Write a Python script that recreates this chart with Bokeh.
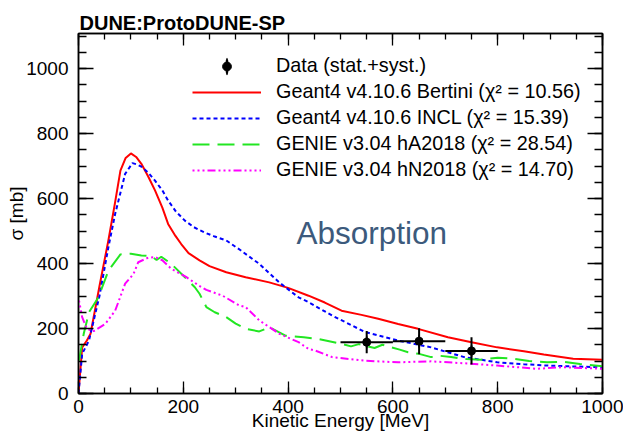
from bokeh.plotting import figure
from bokeh.models import (Range1d, LinearAxis, SingleIntervalTicker, Legend,
                          LegendItem, Label)
from bokeh.embed import file_html
from bokeh.resources import INLINE

# ---------------- data ----------------
bert_x = [0, 7, 16, 23, 40, 57, 70, 80, 90, 100, 110, 120, 133, 146, 160, 171, 185,
          196, 210, 231, 250, 282, 319, 364, 400, 439, 470, 502, 540, 572, 610, 648,
          705, 750, 799, 850, 888, 944, 1000]
bert_y = [0, 142, 163, 184, 330, 471, 590, 686, 725, 739, 728, 707, 668, 625, 572, 522,
          485, 460, 432, 410, 392, 373, 358, 342, 325, 301, 280, 255, 242, 230, 214, 199,
          173, 158, 142, 130, 120, 107, 104]

incl_x = [0, 7, 20, 40, 57, 70, 89, 103, 112, 120, 133, 146, 160, 171, 186, 203, 220,
          240, 260, 282, 310, 345, 383, 420, 439, 484, 547, 610, 673, 736, 799, 850,
          894, 950, 1000]
incl_y = [0, 122, 163, 300, 450, 553, 676, 709, 705, 698, 680, 655, 625, 594, 560, 532,
          512, 496, 483, 471, 440, 399, 342, 296, 281, 240, 189, 163, 142, 112, 96, 90,
          86, 83, 81]

ha_x = [1, 10, 20, 38, 57, 80, 100, 120, 139, 149, 158, 177, 203, 222, 231, 244, 260,
        282, 300, 319, 345, 364, 395, 430, 458, 502, 520, 535, 550, 565, 580, 597, 613,
        629, 650, 673, 690, 711, 740, 768, 800, 831, 860, 894, 925, 957, 1000]
ha_y = [101, 184, 250, 296, 378, 428, 430, 425, 423, 411, 421, 399, 358, 327, 307, 266,
        250, 235, 215, 199, 191, 204, 178, 173, 168, 153, 145, 152, 146, 140, 150, 142,
        135, 127, 122, 112, 116, 112, 106, 104, 110, 107, 100, 96, 98, 91, 84]

hn_x = [1, 7, 16, 29, 51, 70, 89, 105, 114, 133, 146, 160, 177, 206, 230, 244, 275,
        307, 319, 345, 383, 420, 439, 452, 484, 547, 610, 673, 736, 799, 875, 925, 1000]
hn_y = [286, 235, 199, 192, 214, 255, 338, 368, 404, 418, 420, 410, 384, 358, 332, 319,
        301, 271, 266, 225, 184, 158, 137, 132, 112, 101, 96, 99, 93, 86, 76, 81, 76]

data_x = [550, 650, 750]
data_y = [158, 161, 131]
data_xerr = [50, 50, 50]
data_yerr = [34, 40, 42]

labels = ["Data (stat.+syst.)",
          "Geant4 v4.10.6 Bertini (\u03c7\u00b2 = 10.56)",
          "Geant4 v4.10.6 INCL (\u03c7\u00b2 = 15.39)",
          "GENIE v3.04 hA2018 (\u03c7\u00b2 = 28.54)",
          "GENIE v3.04 hN2018 (\u03c7\u00b2 = 14.70)"]

FONT = "Liberation Sans"

p = figure(width=623, height=434, output_backend="svg", toolbar_location=None,
           x_range=Range1d(0, 1000), y_range=Range1d(0, 1108),
           x_axis_location=None, y_axis_location=None,
           min_border_left=78, min_border_right=21, min_border_top=33,
           min_border_bottom=41)
p.background_fill_color = "white"
p.border_fill_color = "white"
p.outline_line_color = "black"
p.outline_line_width = 1.5
for g in p.grid:
    g.visible = False

p.title.text = "DUNE:ProtoDUNE-SP"
p.title.text_font = FONT
p.title.text_font_size = "20px"
p.title.text_font_style = "bold"
p.title.text_color = "black"
p.title.align = "left"
p.title.standoff = 0
p.title.offset = 1


def make_axis(tick_in, minor_in, labels_on):
    ax = LinearAxis(ticker=SingleIntervalTicker(interval=200, num_minor_ticks=4))
    ax.major_tick_in = tick_in
    ax.major_tick_out = 0
    ax.minor_tick_in = minor_in
    ax.minor_tick_out = 0
    ax.axis_line_width = 1.5
    ax.major_tick_line_width = 1.3
    ax.minor_tick_line_width = 1.3
    if labels_on:
        ax.major_label_text_font = FONT
        ax.major_label_text_font_size = "19px"
        ax.major_label_text_color = "black"
        ax.axis_label_text_font = FONT
        ax.axis_label_text_font_size = "19px"
        ax.axis_label_text_font_style = "normal"
        ax.axis_label_text_color = "black"
    else:
        ax.major_label_text_font_size = "1px"
        ax.major_label_text_color = None
        ax.major_label_standoff = 0
    return ax


left = make_axis(15, 8, True)
left.major_label_standoff = 10
left.axis_label = "\u03c3 [mb]"
left.axis_label_standoff = -4
bottom = make_axis(12, 6, True)
bottom.major_label_standoff = 6
bottom.axis_label = "Kinetic Energy [MeV]"
bottom.axis_label_standoff = -6
right = make_axis(15, 8, False)
top = make_axis(12, 6, False)
top.major_label_standoff = -3
p.add_layout(left, "left")
p.add_layout(bottom, "below")
p.add_layout(right, "right")
p.add_layout(top, "above")

r_bert = p.line(bert_x, bert_y, line_color="#ff0000", line_width=2)
r_incl = p.line(incl_x, incl_y, line_color="#0000ff", line_width=2, line_dash="4 3")
r_ha = p.line(ha_x, ha_y, line_color="#22e622", line_width=2, line_dash="17 8")
r_hn = p.line(hn_x, hn_y, line_color="#ff00ff", line_width=2,
              line_dash="2 3 2 3 2 3 8 3")

# data with error bars
xl = [x - e for x, e in zip(data_x, data_xerr)]
xr = [x + e for x, e in zip(data_x, data_xerr)]
yl = [y - e for y, e in zip(data_y, data_yerr)]
yh = [y + e for y, e in zip(data_y, data_yerr)]
p.segment(xl, data_y, xr, data_y, line_color="black", line_width=2)
p.segment(data_x, yl, data_x, yh, line_color="black", line_width=2)
r_bar = p.ellipse(data_x, data_y, width=2.5, height=14, width_units="screen",
                  height_units="screen", fill_color="black", line_color=None)
r_pts = p.scatter(data_x, data_y, marker="circle", size=8, fill_color="black",
                  line_color="black")

legend = Legend(items=[
    LegendItem(label=labels[0], renderers=[r_bar, r_pts]),
    LegendItem(label=labels[1], renderers=[r_bert]),
    LegendItem(label=labels[2], renderers=[r_incl]),
    LegendItem(label=labels[3], renderers=[r_ha]),
    LegendItem(label=labels[4], renderers=[r_hn]),
], location=(114, 212), padding=0, margin=0, spacing=3,
    glyph_width=69, glyph_height=22, label_height=22, label_standoff=15,
    label_text_font=FONT, label_text_font_size="19.8px", label_text_color="black",
    border_line_color=None, background_fill_alpha=0)
p.add_layout(legend)

p.add_layout(Label(x=416, y=495, text="Absorption", text_font=FONT,
                   text_font_size="31.5px", text_color="#3c5a7c",
                   text_baseline="alphabetic", text_align="left"))

open("out.html", "w").write(file_html(p, INLINE))
